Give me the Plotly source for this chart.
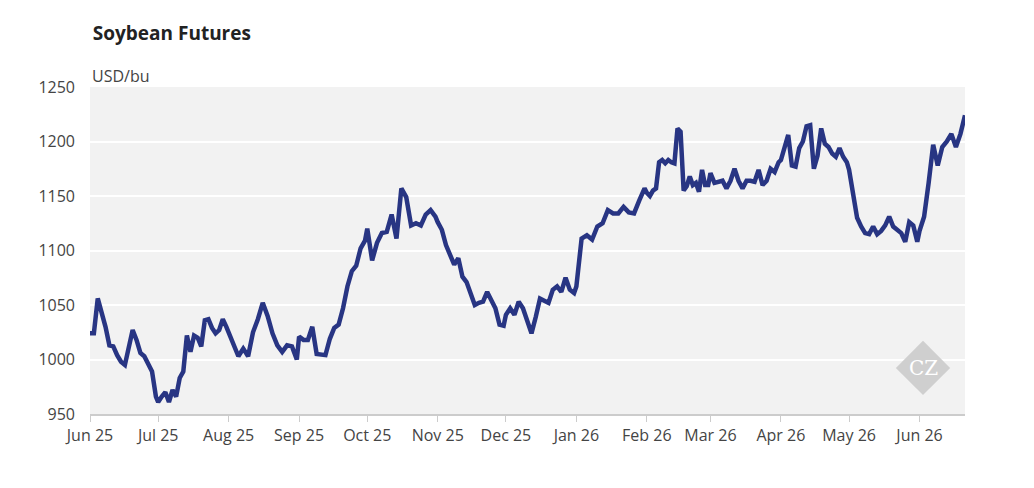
import pandas as pd
import plotly.graph_objects as go

# monthly blocks of readings (USD/bu), spread evenly across each month
months = [
    ("2025-06-01", "2025-06-30", [1024, 1024, 1056, 1044, 1030, 1013, 1012, 1004, 998, 995, 1013, 1027, 1018, 1006, 1003, 995, 989, 966]),
    ("2025-07-01", "2025-07-31", [961, 966, 970, 961, 972, 966, 983, 989, 1022, 1007, 1022, 1020, 1012, 1036, 1037, 1029, 1024, 1027, 1037, 1030]),
    ("2025-08-01", "2025-08-31", [1025, 1013, 1003, 1010, 1003, 1025, 1037, 1052, 1040, 1024, 1013, 1007, 1013, 1012, 1000]),
    ("2025-09-01", "2025-09-30", [1021, 1018, 1018, 1030, 1005, 1005, 1004, 1019, 1029, 1032, 1047, 1067, 1081, 1086, 1102, 1109]),
    ("2025-10-01", "2025-10-31", [1120, 1091, 1107, 1116, 1117, 1133, 1111, 1157, 1149, 1123, 1125, 1123, 1133, 1137, 1131]),
    ("2025-11-01", "2025-11-30", [1126, 1119, 1105, 1096, 1087, 1093, 1076, 1071, 1061, 1050, 1052, 1053, 1062, 1055, 1047, 1032, 1031]),
    ("2025-12-01", "2025-12-31", [1041, 1047, 1041, 1053, 1047, 1036, 1024, 1039, 1056, 1054, 1052, 1064, 1067, 1062, 1075, 1064, 1061]),
    ("2026-01-01", "2026-01-31", [1067, 1111, 1114, 1110, 1122, 1125, 1137, 1134, 1134, 1140, 1135, 1134, 1146, 1157]),
    ("2026-02-01", "2026-02-28", [1153, 1150, 1155, 1157, 1181, 1183, 1180, 1183, 1181, 1180, 1212, 1209, 1155, 1159, 1168, 1160, 1162, 1154, 1174, 1160, 1160]),
    ("2026-03-01", "2026-03-31", [1171, 1162, 1163, 1164, 1157, 1164, 1175, 1164, 1157, 1164, 1164, 1163, 1174, 1160, 1164, 1175, 1172, 1181]),
    ("2026-04-01", "2026-04-30", [1183, 1195, 1206, 1178, 1177, 1194, 1200, 1214, 1215, 1175, 1187, 1212, 1198, 1195, 1189, 1186, 1194, 1186, 1181]),
    ("2026-05-01", "2026-05-31", [1174, 1153, 1130, 1122, 1116, 1115, 1122, 1115, 1118, 1123, 1131, 1122, 1119, 1116, 1108, 1126, 1123, 1108]),
    ("2026-06-01", "2026-06-21", [1118, 1131, 1162, 1197, 1178, 1195, 1200, 1207, 1195, 1207, 1224]),
]

dates = []
prices = []
for start, end, vals in months:
    dates += list(pd.date_range(start, end, periods=len(vals)))
    prices += vals

fig = go.Figure()
fig.add_trace(go.Scatter(x=dates, y=prices, mode="lines",
                         line=dict(color="#283583", width=4.5), showlegend=False))

# CZ watermark diamond
fig.add_shape(type="path", xref="paper", yref="paper",
              path="M 0.952 0.224 L 0.983 0.141 L 0.952 0.058 L 0.921 0.141 Z",
              fillcolor="#cfcfcf", line=dict(width=0))

fig.update_layout(
    width=1034, height=488,
    margin=dict(l=82, r=77, t=79, b=82),
    paper_bgcolor="white", plot_bgcolor="#f2f2f2",
    font=dict(family="Open Sans", size=16, color="#444444"),
    title=dict(text="<b>Soybean Futures</b>", x=0.082, xanchor="left",
               y=1 - 25 / 488, yanchor="middle", yref="container",
               font=dict(size=19, color="#222222")),
    annotations=[
        dict(text="USD/bu", xref="paper", yref="paper", x=0, y=0.995,
             xanchor="left", yanchor="bottom", showarrow=False,
             font=dict(size=16, color="#444444")),
        dict(text="CZ", xref="paper", yref="paper", x=0.952, y=0.141,
             xanchor="center", yanchor="middle", showarrow=False,
             font=dict(family="DejaVu Serif", size=20, color="white")),
    ],
    xaxis=dict(range=["2025-06-01", "2026-06-21"], dtick="M1", tick0="2025-06-01",
               tickformat="%b %y", showgrid=False, ticks="outside", ticklen=6,
               tickcolor="#cccccc", showline=True, linecolor="#cccccc", linewidth=2),
    yaxis=dict(range=[950, 1250], dtick=50, gridcolor="white", gridwidth=2,
               zeroline=False, ticks="", ticklabelstandoff=14),
)

fig.write_html("out.html")
